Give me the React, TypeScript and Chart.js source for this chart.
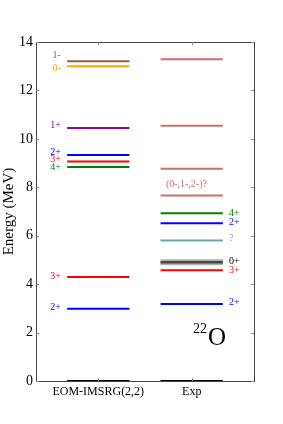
import React, { useEffect, useRef } from "react";
import { Chart, registerables } from "chart.js";

Chart.register(...registerables);

// EOM-IMSRG(2,2) levels (MeV)
const eomEnergies = [13.2, 13.0, 10.45, 9.33, 9.06, 8.84, 4.3, 2.98, 0];
const eomSpins = ["1-", "0-", "1+", "2+", "3+", "4+", "3+", "2+", ""];
const eomColors = ["#9c5b2e", "#ffa500", "#990099", "#0000ff", "#ff0000", "#008000", "#ff0000", "#0000ff", "#000000"];
const eomLabelAt = [13.43, 12.9, 10.54, 9.45, 9.17, 8.84, 4.31, 3.05, 0];

// Experimental levels (MeV)
const expEnergies = [13.29, 10.54, 8.77, 7.66, 6.93, 6.51, 5.8, 4.9, 4.57, 3.18, 0];
const expSpins = ["", "", "", "", "4+", "2+", "?", "0+", "3+", "2+", ""];
const expColors = ["#d46a6a", "#d46a6a", "#d46a6a", "#d46a6a", "#008000", "#0000ff", "#6aa5a8", "#000000", "#ff0000", "#0000ff", "#000000"];
const expLabelAt = [0, 0, 0, 0, 6.93, 6.54, 5.91, 4.92, 4.56, 3.24, 0];

const columnNames = ["EOM-IMSRG(2,2)", "Exp"];
const columnCenters = [2, 5];
const yTicks = [0, 2, 4, 6, 8, 10, 12, 14];

const SERIF = "'Liberation Serif', 'DejaVu Serif', serif";

export default function App() {
  const ref = useRef<HTMLCanvasElement | null>(null);
  useEffect(() => {
    if (!ref.current) return;
    const datasets: any[] = [];
    eomEnergies.forEach((e, i) => {
      datasets.push({
        data: [{ x: 1, y: e }, { x: 3, y: e }],
        borderColor: eomColors[i],
        borderWidth: 2,
        pointRadius: 0,
      });
    });
    expEnergies.forEach((e, i) => {
      if (expSpins[i] === "0+") {
        datasets.push({
          data: [{ x: 4, y: e }, { x: 6, y: e }],
          borderColor: "rgba(120,120,120,0.6)",
          borderWidth: 6,
          pointRadius: 0,
        });
      }
      datasets.push({
        data: [{ x: 4, y: e }, { x: 6, y: e }],
        borderColor: expColors[i],
        borderWidth: expSpins[i] === "0+" ? 2.5 : 2,
        pointRadius: 0,
      });
    });

    const overlay = {
      id: "overlay",
      afterDatasetsDraw(chart: any) {
        const { ctx, chartArea: a, scales } = chart;
        const xs = scales.x, ys = scales.y;
        ctx.save();
        // frame
        ctx.strokeStyle = "#444";
        ctx.lineWidth = 1;
        ctx.strokeRect(Math.round(a.left) + 0.5, Math.round(a.top) + 0.5, Math.round(a.right - a.left), Math.round(a.bottom - a.top));
        // inward ticks
        ctx.strokeStyle = "#888";
        yTicks.forEach((v) => {
          const py = Math.round(ys.getPixelForValue(v)) + 0.5;
          ctx.beginPath();
          ctx.moveTo(a.left, py); ctx.lineTo(a.left + 3, py);
          ctx.moveTo(a.right, py); ctx.lineTo(a.right - 3, py);
          ctx.stroke();
        });
        columnCenters.forEach((v) => {
          const px = Math.round(xs.getPixelForValue(v)) + 0.5;
          ctx.beginPath();
          ctx.moveTo(px, a.top); ctx.lineTo(px, a.top + 3);
          ctx.moveTo(px, a.bottom); ctx.lineTo(px, a.bottom - 3);
          ctx.stroke();
        });
        // level labels
        ctx.font = `10px ${SERIF}`;
        ctx.textBaseline = "middle";
        ctx.textAlign = "right";
        eomSpins.forEach((s, i) => {
          if (!s) return;
          ctx.fillStyle = eomColors[i];
          ctx.fillText(s, xs.getPixelForValue(0.8), ys.getPixelForValue(eomLabelAt[i]));
        });
        ctx.textAlign = "left";
        expSpins.forEach((s, i) => {
          if (!s) return;
          ctx.fillStyle = expColors[i];
          ctx.fillText(s, xs.getPixelForValue(6.2), ys.getPixelForValue(expLabelAt[i]));
        });
        ctx.textAlign = "center";
        ctx.fillStyle = "#d46a6a";
        ctx.fillText("(0-,1-,2-)?", xs.getPixelForValue(4.83), ys.getPixelForValue(8.1));
        // nucleus label
        const bx = xs.getPixelForValue(5.04);
        const by = ys.getPixelForValue(1.49);
        ctx.fillStyle = "#000";
        ctx.textAlign = "left";
        ctx.textBaseline = "alphabetic";
        ctx.font = `14px ${SERIF}`;
        ctx.fillText("22", bx, by - 12);
        const w = ctx.measureText("22").width;
        ctx.font = `25px ${SERIF}`;
        ctx.fillText("O", bx + w + 1, by);
        ctx.restore();
      },
    };

    const chart = new Chart(ref.current, {
      type: "line",
      data: { datasets },
      options: {
        animation: false,
        responsive: false,
        maintainAspectRatio: false,
        layout: { padding: { top: 42, right: 29, left: 0, bottom: 0 } },
        plugins: { legend: { display: false }, tooltip: { enabled: false } },
        scales: {
          x: {
            type: "linear",
            min: 0,
            max: 7,
            grid: { display: false, drawTicks: false },
            border: { display: false },
            afterBuildTicks: (s: any) => { s.ticks = columnCenters.map((v) => ({ value: v })); },
            afterFit: (s: any) => { s.height = 43; },
            ticks: {
              padding: 4,
              color: "#000",
              font: { family: SERIF, size: 12 },
              maxRotation: 0,
              autoSkip: false,
              callback: (v: any) => columnNames[columnCenters.indexOf(Number(v))] ?? "",
            },
          },
          y: {
            type: "linear",
            min: 0,
            max: 14,
            grid: { display: false, drawTicks: false },
            border: { display: false },
            afterBuildTicks: (s: any) => { s.ticks = yTicks.map((v) => ({ value: v })); },
            afterFit: (s: any) => { s.width = 36; },
            title: { display: true, text: "Energy (MeV)", color: "#000", font: { family: SERIF, size: 15 }, padding: 0 },
            ticks: { padding: 3, color: "#000", font: { family: SERIF, size: 14 } },
          },
        },
      },
      plugins: [overlay],
    } as any);
    return () => chart.destroy();
  }, []);
  return (
    <div style={{ position: "fixed", left: 0, top: 0, width: 283, height: 424, background: "#fff" }}>
      <canvas ref={ref} width={283} height={424} style={{ width: 283, height: 424, display: "block" }} />
    </div>
  );
}
